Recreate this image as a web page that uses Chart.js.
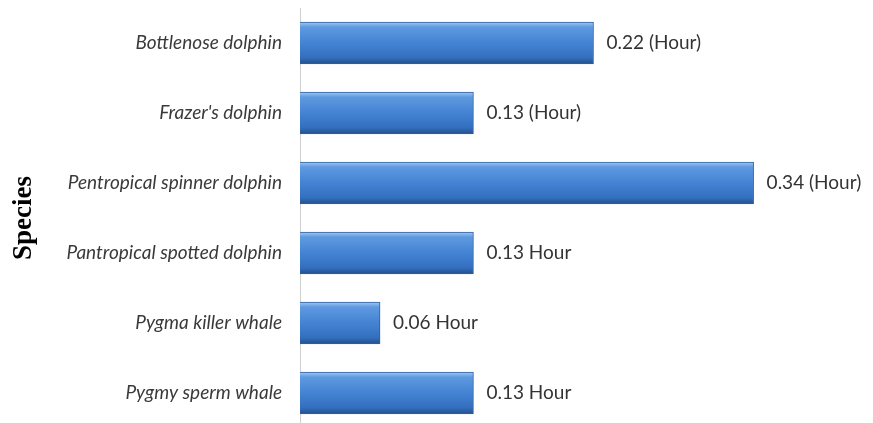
<!DOCTYPE html>
<html>
<head>
<meta charset="utf-8">
<script src="https://cdn.jsdelivr.net/npm/chart.js@4.4.0/dist/chart.umd.min.js"></script>
<style>
  html, body { margin: 0; padding: 0; background: #ffffff; overflow: hidden; }
  #wrap { position: relative; width: 873px; height: 428px; }
</style>
</head>
<body>
<div id="wrap"><canvas id="c"></canvas></div>
<script>
const categories = [
  "Bottlenose dolphin",
  "Frazer's dolphin",
  "Pentropical spinner dolphin",
  "Pantropical spotted dolphin",
  "Pygma killer whale",
  "Pygmy sperm whale"
];
const durations = [0.22, 0.13, 0.34, 0.13, 0.06, 0.13];
const valueLabels = [
  "0.22 (Hour)",
  "0.13 (Hour)",
  "0.34 (Hour)",
  "0.13 Hour",
  "0.06 Hour",
  "0.13 Hour"
];
const axisTitle = "Species";

function barGradient(ctx) {
  const chart = ctx.chart;
  const y = chart.scales && chart.scales.y;
  if (!y || !chart.chartArea || ctx.dataIndex === undefined) return '#3f7ccc';
  const c = y.getPixelForValue(ctx.dataIndex);
  const h = 21;
  const g = chart.ctx.createLinearGradient(0, c - h, 0, c + h);
  g.addColorStop(0, '#a2c8f2');
  g.addColorStop(0.12, '#5e9ae0');
  g.addColorStop(0.5, '#4483d3');
  g.addColorStop(0.85, '#336fbf');
  g.addColorStop(1, '#234f8a');
  return g;
}

const valueLabelPlugin = {
  id: 'valueLabels',
  afterDatasetsDraw(chart) {
    const meta = chart.getDatasetMeta(0);
    const ctx = chart.ctx;
    ctx.save();
    ctx.font = '19px Lato, "Open Sans", sans-serif';
    ctx.fillStyle = '#333333';
    ctx.textAlign = 'left';
    ctx.textBaseline = 'middle';
    meta.data.forEach((bar, i) => {
      ctx.fillText(valueLabels[i], bar.x + 13, bar.y);
    });
    ctx.restore();
  }
};

new Chart(document.getElementById('c'), {
  type: 'bar',
  data: {
    labels: categories,
    datasets: [{
      data: durations,
      backgroundColor: barGradient,
      borderColor: '#2f5f9e',
      borderWidth: 1,
      borderSkipped: 'left',
      barThickness: 42
    }]
  },
  options: {
    indexAxis: 'y',
    responsive: true,
    maintainAspectRatio: false,
    animation: false,
    layout: { padding: { top: 8, right: 26, bottom: 0, left: 0 } },
    plugins: {
      legend: { display: false },
      tooltip: { enabled: false }
    },
    scales: {
      x: {
        display: false,
        min: 0,
        max: 0.41
      },
      y: {
        afterFit(scale) {
          scale.width = 300;
          scale.paddingTop = 0;
          scale.paddingBottom = 0;
        },
        grid: { display: false, drawTicks: false },
        border: { display: true, color: '#cfcfcf', width: 1 },
        ticks: {
          padding: 18,
          color: '#3a3a3a',
          font: { family: 'Lato, "Open Sans", sans-serif', size: 19, style: 'italic' }
        },
        title: {
          display: true,
          text: axisTitle,
          color: '#000000',
          padding: { top: 8, bottom: 0 },
          font: { family: '"Liberation Serif", "DejaVu Serif", serif', size: 27, weight: 'bold' }
        }
      }
    }
  },
  plugins: [valueLabelPlugin]
});
</script>
</body>
</html>
